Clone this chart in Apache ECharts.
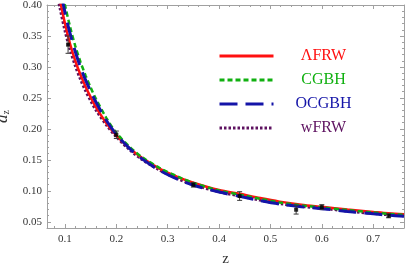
<!DOCTYPE html>
<html>
<head>
<meta charset="utf-8">
<script src="https://cdn.jsdelivr.net/npm/echarts@6/dist/echarts.min.js"></script>
<style>
html,body{margin:0;padding:0;background:#fff;}
#c{width:407px;height:267px;}
</style>
</head>
<body>
<div id="c"></div>
<script>
// ---- data ----
const zGrid = [0.085, 0.09, 0.10, 0.11, 0.12, 0.13, 0.14, 0.15, 0.16, 0.18, 0.20, 0.225, 0.25, 0.285, 0.32, 0.35, 0.40, 0.44, 0.48, 0.518, 0.56, 0.60, 0.65, 0.70, 0.73, 0.76];
const dLFRW = [0.432, 0.409, 0.370, 0.337, 0.310, 0.2877, 0.2686, 0.2513, 0.2356, 0.210, 0.1895, 0.1693, 0.1532, 0.1354, 0.1222, 0.1131, 0.1013, 0.0952, 0.0883, 0.0826, 0.0777, 0.0742, 0.0698, 0.0660, 0.0638, 0.0622];
const dCGBH = [0.465, 0.441, 0.400, 0.3645, 0.334, 0.3085, 0.2864, 0.2667, 0.2488, 0.2183, 0.1935, 0.1716, 0.1544, 0.1365, 0.1228, 0.1129, 0.1005, 0.0939, 0.0871, 0.0813, 0.0764, 0.0732, 0.0688, 0.0650, 0.0629, 0.0612];
const dOCGBH = [0.454, 0.430, 0.388, 0.3536, 0.325, 0.300, 0.279, 0.2607, 0.2438, 0.2144, 0.191, 0.1689, 0.1516, 0.1326, 0.1184, 0.1091, 0.098, 0.0911, 0.0842, 0.0786, 0.0743, 0.0712, 0.0668, 0.0629, 0.0607, 0.0589];
const dWFRW = [0.4165, 0.3956, 0.358, 0.3273, 0.3017, 0.280, 0.2614, 0.2453, 0.2306, 0.2067, 0.187, 0.1667, 0.1504, 0.1330, 0.1191, 0.1097, 0.0983, 0.0916, 0.0848, 0.0792, 0.0748, 0.0718, 0.0672, 0.0633, 0.0612, 0.0595];

const obsZ = [0.106, 0.2, 0.35, 0.44, 0.55, 0.6, 0.73];
const obsD = [0.336, 0.1905, 0.1097, 0.0916, 0.0695, 0.0737, 0.0597];
const obsErr = [0.014, 0.006, 0.0036, 0.007, 0.007, 0.004, 0.0032];

const xMajor = [0.1, 0.2, 0.3, 0.4, 0.5, 0.6, 0.7];
const xMinor = [0.08, 0.12, 0.14, 0.16, 0.18, 0.22, 0.24, 0.26, 0.28, 0.32, 0.34, 0.36, 0.38, 0.42, 0.44, 0.46, 0.48, 0.52, 0.54, 0.56, 0.58, 0.62, 0.64, 0.66, 0.68, 0.72, 0.74];
const yMajor = [0.05, 0.10, 0.15, 0.20, 0.25, 0.30, 0.35, 0.40];
const yMinor = [0.04, 0.06, 0.07, 0.08, 0.09, 0.11, 0.12, 0.13, 0.14, 0.16, 0.17, 0.18, 0.19, 0.21, 0.22, 0.23, 0.24, 0.26, 0.27, 0.28, 0.29, 0.31, 0.32, 0.33, 0.34, 0.36, 0.37, 0.38, 0.39];

const names = ['\u039BFRW', 'CGBH', 'OCGBH', 'wFRW'];
const colors = {'\u039BFRW': '#ff1010', 'CGBH': '#10b010', 'OCGBH': '#1414a8', 'wFRW': '#5e1260'};

// ---- build ----
const XMIN = 0.065, XMAX = 0.76, YMIN = 0.04, YMAX = 0.40;
const frame = '#a0a0a0';
const serif = 'Liberation Serif';
const pair = arr => zGrid.map((z, i) => [z, arr[i]]);

function xAx(gridIndex, position, ticks, len, labels, line) {
  return {
    type: 'value', gridIndex, position, min: XMIN, max: XMAX,
    axisLine: {show: line, onZero: false, lineStyle: {color: frame, width: 1}},
    axisTick: {show: true, inside: true, length: len, customValues: ticks, lineStyle: {color: frame, width: 1}},
    axisLabel: labels ? {show: true, customValues: ticks, formatter: v => Number(v).toFixed(1), fontFamily: serif, fontSize: 11, color: '#333', margin: 6} : {show: false},
    splitLine: {show: false}
  };
}
function yAx(gridIndex, position, ticks, len, labels, line) {
  return {
    type: 'value', gridIndex, position, min: YMIN, max: YMAX,
    axisLine: {show: line, onZero: false, lineStyle: {color: frame, width: 1}},
    axisTick: {show: true, inside: true, length: len, customValues: ticks, lineStyle: {color: frame, width: 1}},
    axisLabel: labels ? {show: true, customValues: ticks, formatter: v => Number(v).toFixed(2), fontFamily: serif, fontSize: 11, color: '#333', margin: 5} : {show: false},
    splitLine: {show: false}
  };
}

const xAxes = [
  Object.assign(xAx(0, 'bottom', xMajor, 4, true, true), {name: 'z', nameLocation: 'middle', nameGap: 24, nameTextStyle: {fontFamily: serif, fontSize: 15, color: '#333'}}),
  xAx(0, 'top', xMajor, 4, false, true),
  xAx(1, 'bottom', xMinor, 2, false, false),
  xAx(1, 'top', xMinor, 2, false, false)
];
const yAxes = [
  Object.assign(yAx(0, 'left', yMajor, 4, true, true), {name: '{d|d}{s|z}', nameLocation: 'middle', nameGap: 28, nameTextStyle: {color: '#333', rich: {d: {fontFamily: serif, fontStyle: 'italic', fontSize: 17, color: '#333'}, s: {fontFamily: serif, fontSize: 10, color: '#333', padding: [8, 0, 0, 0]}}}}),
  yAx(0, 'right', yMajor, 4, false, true),
  yAx(1, 'left', yMinor, 2, false, false),
  yAx(1, 'right', yMinor, 2, false, false)
];

const styles = {
  '\u039BFRW': {type: 'solid', width: 2.5},
  'CGBH': {type: [5, 3], width: 2.5},
  'OCGBH': {type: [18, 8], width: 3},
  'wFRW': {type: [2.5, 2], width: 2.8}
};
const dataMap = {'\u039BFRW': dLFRW, 'CGBH': dCGBH, 'OCGBH': dOCGBH, 'wFRW': dWFRW};
const drawOrder = ['wFRW', '\u039BFRW', 'CGBH', 'OCGBH'];

const lineSeries = drawOrder.map((n, k) => ({
  name: n, type: 'line', xAxisIndex: 0, yAxisIndex: 0,
  data: pair(dataMap[n]), smooth: 0.3, symbol: 'none', showSymbol: false,
  clip: true, z: 2 + k,
  lineStyle: {color: colors[n], width: styles[n].width, type: styles[n].type, cap: 'butt'},
  itemStyle: {color: colors[n]},
  emphasis: {disabled: true}, animation: false
}));

const errSeries = {
  type: 'custom', xAxisIndex: 0, yAxisIndex: 0, z: 10, clip: true,
  data: obsZ.map((z, i) => [z, obsD[i], obsErr[i]]),
  renderItem(params, api) {
    const x = api.value(0), y = api.value(1), e = api.value(2);
    const t = api.coord([x, y + e]), b = api.coord([x, y - e]);
    const cap = 2.5, st = {stroke: '#3a3a3a', lineWidth: 1};
    return {type: 'group', children: [
      {type: 'line', shape: {x1: t[0], y1: t[1], x2: b[0], y2: b[1]}, style: st},
      {type: 'line', shape: {x1: t[0] - cap, y1: t[1], x2: t[0] + cap, y2: t[1]}, style: st},
      {type: 'line', shape: {x1: b[0] - cap, y1: b[1], x2: b[0] + cap, y2: b[1]}, style: st}
    ]};
  },
  animation: false
};
const ptSeries = {
  type: 'scatter', xAxisIndex: 0, yAxisIndex: 0, z: 11,
  data: obsZ.map((z, i) => [z, obsD[i]]),
  symbol: 'rect', symbolSize: 4, itemStyle: {color: '#000'},
  animation: false
};

const chart = echarts.init(document.getElementById('c'), null, {renderer: 'canvas'});
chart.setOption({
  backgroundColor: '#fff',
  animation: false,
  grid: [
    {left: 47, right: 3, top: 5, bottom: 39, containLabel: false, outerBoundsMode: 'none'},
    {left: 47, right: 3, top: 5, bottom: 39, containLabel: false, outerBoundsMode: 'none'}
  ],
  xAxis: xAxes,
  yAxis: yAxes,
  legend: {
    orient: 'vertical', left: 218, top: 48, padding: 0,
    itemWidth: 54, itemHeight: 14, itemGap: 8,
    selectedMode: false,
    lineStyle: {width: 3},
    itemStyle: {opacity: 0},
    formatter: '{a|{name}}',
    textStyle: {fontFamily: serif, fontSize: 16, rich: {a: {width: 90, align: 'center', fontFamily: serif, fontSize: 16}}},
    data: names.map(n => ({name: n, textStyle: {color: colors[n]}}))
  },
  series: [...lineSeries, errSeries, ptSeries]
});
</script>
</body>
</html>
